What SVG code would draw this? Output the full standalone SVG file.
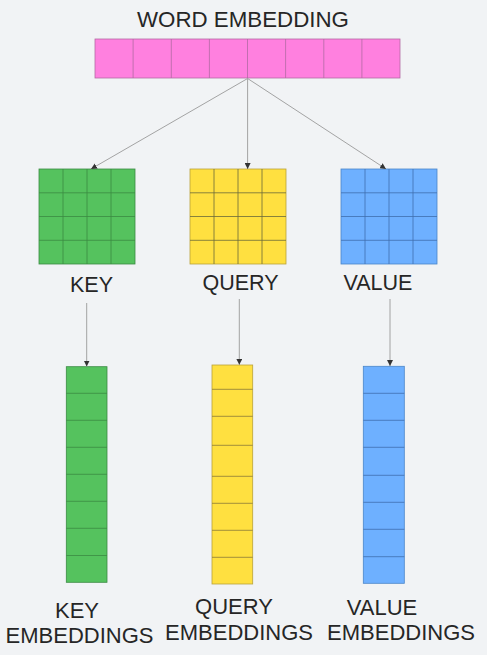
<svg xmlns="http://www.w3.org/2000/svg" width="487" height="655" viewBox="0 0 487 655">
<style>
.lbl{font-family:"Liberation Sans",Arial,sans-serif;fill:#262626;text-anchor:middle}
.pink{fill:#ff80df;stroke:#b36aa3;stroke-width:0.8}
.green{fill:#55c25e;stroke:#3b8a43;stroke-width:0.8}
.yellow{fill:#ffe040;stroke:#b9a23a;stroke-width:0.8}
.blue{fill:#6eb0ff;stroke:#4a86c9;stroke-width:0.8}
.gl{stroke-width:0.8;fill:none}
.conn{stroke:#9a9a9a;stroke-width:0.9;fill:none;marker-end:url(#ah)}
</style>
<defs>
<marker id="ah" viewBox="0 0 10 10" refX="10" refY="5" markerWidth="6" markerHeight="6" markerUnits="userSpaceOnUse" orient="auto">
<path d="M0,0 L10,5 L0,10 z" fill="#333"/>
</marker>
</defs>
<rect width="487" height="655" fill="#f1f3f5"/>

<g id="word-embedding">
<text class="lbl" x="243" y="27" font-size="22.3">WORD EMBEDDING</text>
<rect class="pink" x="95" y="39" width="305" height="39"/>
<path class="gl" stroke="#b36aa3" d="M133.1,39V78M171.3,39V78M209.4,39V78M247.5,39V78M285.6,39V78M323.8,39V78M361.9,39V78"/>
</g>

<g id="key-matrix">
<rect class="green" x="39" y="169" width="96" height="95"/>
<path class="gl" stroke="#3b8a43" d="M63,169V264M87,169V264M111,169V264M39,192.8H135M39,216.5H135M39,240.3H135"/>
<text class="lbl" x="91.5" y="292" font-size="21.5">KEY</text>
</g>

<g id="query-matrix">
<rect class="yellow" x="190" y="169" width="96" height="95"/>
<path class="gl" stroke="#6b6a3a" d="M214,169V264M238,169V264M262,169V264M190,192.8H286M190,216.5H286M190,240.3H286"/>
<text class="lbl" x="240.5" y="289.5" font-size="21.5">QUERY</text>
</g>

<g id="value-matrix">
<rect class="blue" x="341" y="169" width="96" height="95"/>
<path class="gl" stroke="#3f6fae" d="M365,169V264M389,169V264M413,169V264M341,192.8H437M341,216.5H437M341,240.3H437"/>
<text class="lbl" x="378" y="289.5" font-size="21.5">VALUE</text>
</g>

<g id="key-embeddings">
<rect class="green" x="66.3" y="366.7" width="40.7" height="215.6"/>
<path class="gl" stroke="#3b8a43" d="M66.3,393.3H107M66.3,420.3H107M66.3,447.3H107M66.3,474.3H107M66.3,501.3H107M66.3,528.3H107M66.3,555.5H107"/>
<text class="lbl" x="77" y="618" font-size="22">KEY</text>
<text class="lbl" x="79.5" y="643" font-size="22">EMBEDDINGS</text>
</g>

<g id="query-embeddings">
<rect class="yellow" x="212" y="365" width="40.7" height="219"/>
<path class="gl" stroke="#8a7a3a" d="M212,389.3H252.7M212,416.3H252.7M212,445.3H252.7M212,476.3H252.7M212,503.3H252.7M212,530.3H252.7M212,557.3H252.7"/>
<text class="lbl" x="234" y="614" font-size="22">QUERY</text>
<text class="lbl" x="239" y="640" font-size="22">EMBEDDINGS</text>
</g>

<g id="value-embeddings">
<rect class="blue" x="363.3" y="366.3" width="41" height="217"/>
<path class="gl" stroke="#3f6fae" d="M363.3,393.3H404.3M363.3,420.3H404.3M363.3,447.3H404.3M363.3,475.3H404.3M363.3,502.3H404.3M363.3,529.3H404.3M363.3,556.7H404.3"/>
<text class="lbl" x="382" y="615" font-size="22">VALUE</text>
<text class="lbl" x="401" y="640" font-size="22">EMBEDDINGS</text>
</g>

<g id="connectors">
<path class="conn" d="M247.6,78.5L91,169"/>
<path class="conn" d="M247.6,78.5V169"/>
<path class="conn" d="M247.6,78.5L386,169"/>
<path class="conn" d="M86.7,303V366.5"/>
<path class="conn" d="M239.3,299V364.8"/>
<path class="conn" d="M390,299V366"/>
</g>
</svg>
